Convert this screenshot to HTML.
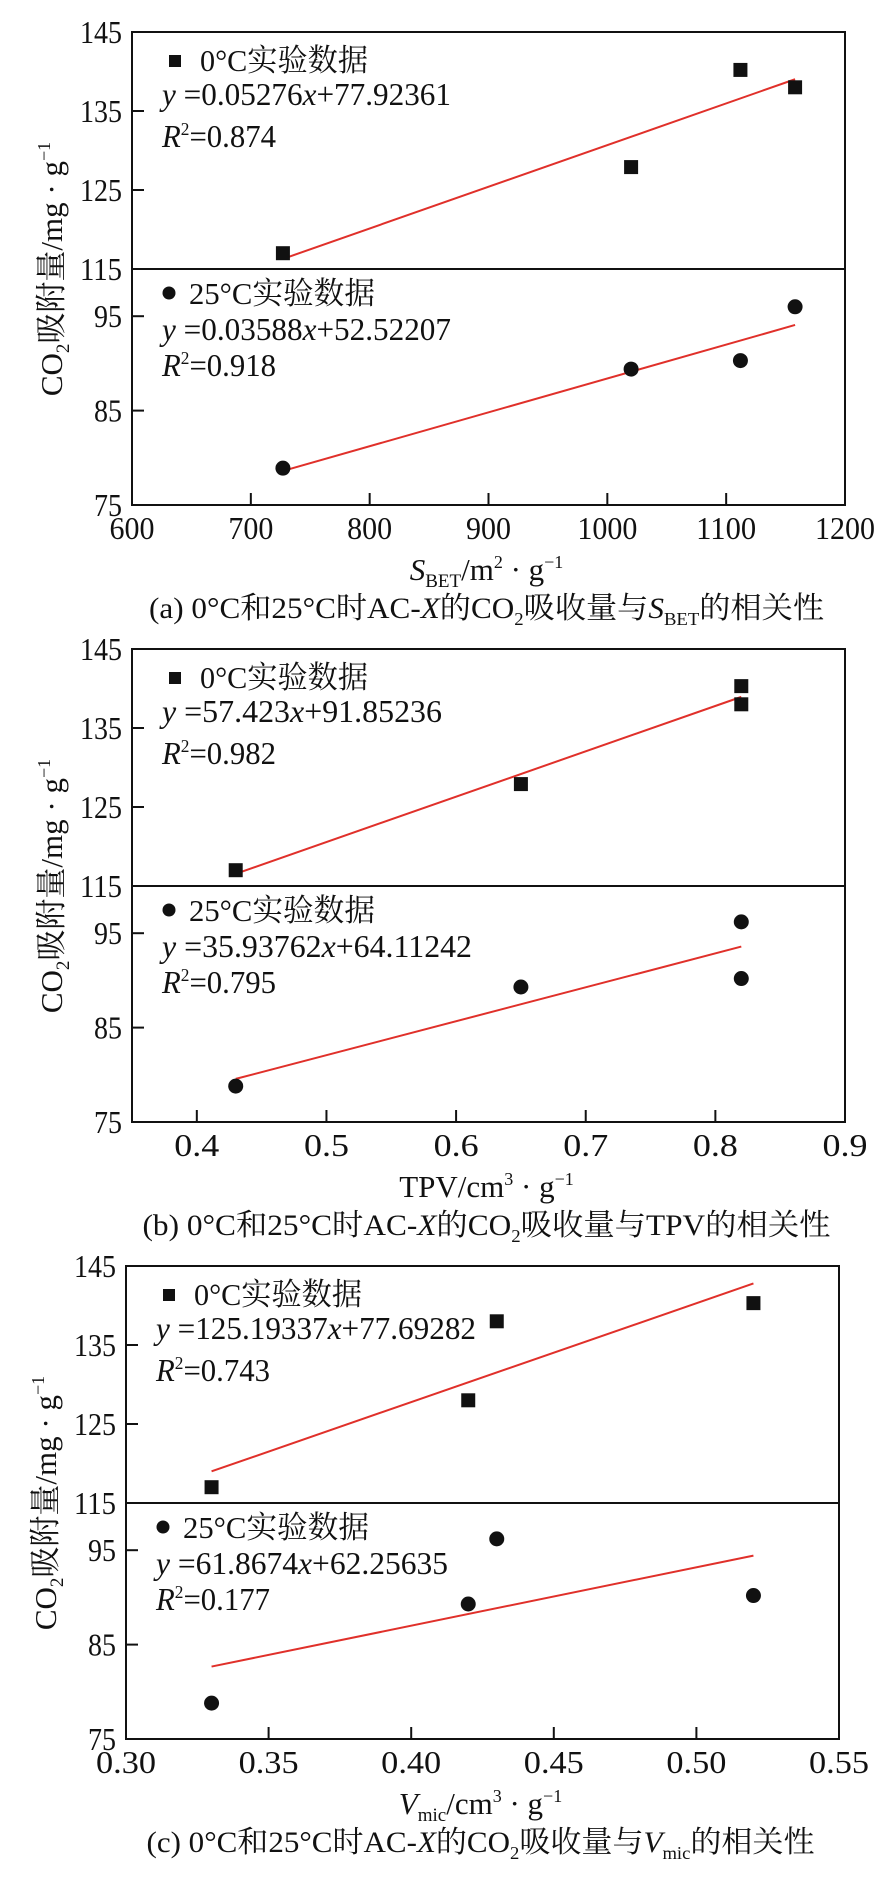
<!DOCTYPE html>
<html><head><meta charset="utf-8">
<style>
html,body{margin:0;padding:0;background:#fff;}
svg{display:block;}
text{font-family:"Liberation Serif","Noto Serif CJK SC","Noto Sans CJK SC",serif;fill:#111;}
</style></head>
<body>
<svg id="fig" width="881" height="1883" viewBox="0 0 881 1883" xmlns="http://www.w3.org/2000/svg"></svg>
<script>
// ---- Panel (a) data: S_BET ----
const aX = [727, 1020, 1112, 1158];
const aUpper = [117.0, 127.9, 140.2, 138.0];
const aLower = [78.9, 89.4, 90.3, 96.0];
const aFitUpper = [0.05276, 77.92361];
const aFitLower = [0.03588, 52.52207];
const aXTicks = [600, 700, 800, 900, 1000, 1100, 1200];
const aXTickLabels = ["600","700","800","900","1000","1100","1200"];
// ---- Panel (b) data: TPV ----
const bX = [0.43, 0.65, 0.82, 0.82];
const bUpper = [117.0, 127.9, 140.3, 138.0];
const bLower = [78.8, 89.3, 96.2, 90.2];
const bFitUpper = [57.423, 91.85236];
const bFitLower = [35.93762, 64.11242];
const bXTicks = [0.4, 0.5, 0.6, 0.7, 0.8, 0.9];
const bXTickLabels = ["0.4","0.5","0.6","0.7","0.8","0.9"];
// ---- Panel (c) data: V_mic ----
const cX = [0.33, 0.42, 0.43, 0.52];
const cUpper = [117.0, 128.0, 138.0, 140.3];
const cLower = [78.8, 89.3, 96.2, 90.2];
const cFitUpper = [125.19337, 77.69282];
const cFitLower = [61.8674, 62.25635];
const cXTicks = [0.30, 0.35, 0.40, 0.45, 0.50, 0.55];
const cXTickLabels = ["0.30","0.35","0.40","0.45","0.50","0.55"];
// y-axis ticks (shared)
const upperYTicks = [145, 135, 125, 115];
const lowerYTicks = [95, 85, 75];

const NS = "http://www.w3.org/2000/svg";
const svg = document.getElementById('fig');
function mk(tag, attrs, parent){
  const e = document.createElementNS(NS, tag);
  for (const k in attrs) e.setAttribute(k, attrs[k]);
  (parent||svg).appendChild(e);
  return e;
}
function txt(parent, x, y, html, size, anchor, extra){
  const t = mk('text', Object.assign({x:x, y:y, 'font-size':size, 'text-anchor':anchor||'start'}, extra||{}), parent);
  t.innerHTML = html;
  return t;
}

function drawPanel(p){
  const g = mk('g', {});
  
  
  const L = p.left, R = p.right, T = p.top, D = T + 237, B = T + 473;
  const sx = v => L + (v - p.xmin) / (p.xmax - p.xmin) * (R - L);
  const syU = v => D - (v - 115) / 30 * (D - T);
  const syL = v => B - (v - 75) / 25 * (B - D);

  const frame = mk('rect', {x:L, y:T, width:R-L, height:B-T, fill:'none', stroke:'#111', 'stroke-width':2}, g);
  
  
  const div = mk('line', {x1:L, x2:R, y1:D, y2:D, stroke:'#111', 'stroke-width':2}, g);
  
  

  upperYTicks.forEach(v => {
    const y = syU(v);
    mk('line', {x1:L, x2:L+12, y1:y, y2:y, stroke:'#111', 'stroke-width':2}, g);
    const t = txt(g, L-10, y+11, String(v), 32, 'end', {'textLength':42, 'lengthAdjust':'spacingAndGlyphs'});
    
    
  });
  lowerYTicks.forEach(v => {
    const y = syL(v);
    mk('line', {x1:L, x2:L+12, y1:y, y2:y, stroke:'#111', 'stroke-width':2}, g);
    const t = txt(g, L-10, y+11, String(v), 32, 'end', {'textLength':28, 'lengthAdjust':'spacingAndGlyphs'});
    
    
  });
  p.xTicks.forEach((v, i) => {
    const x = sx(v);
    mk('line', {x1:x, x2:x, y1:B, y2:B-12, stroke:'#111', 'stroke-width':2}, g);
    const lab = p.xTickLabels[i];
    const t = txt(g, x, B+34, lab, 32, 'middle', {'textLength':lab.length*15, 'lengthAdjust':'spacingAndGlyphs'});
    
    
  });

  const x0 = p.xs[0], x1 = p.xs[p.xs.length-1];
  const fu = mk('line', {x1:sx(x0), y1:syU(p.fitU[0]*x0+p.fitU[1]), x2:sx(x1), y2:syU(p.fitU[0]*x1+p.fitU[1]), stroke:'#e0302a', 'stroke-width':2}, g);
  
  
  const fl = mk('line', {x1:sx(x0), y1:syL(p.fitL[0]*x0+p.fitL[1]), x2:sx(x1), y2:syL(p.fitL[0]*x1+p.fitL[1]), stroke:'#e0302a', 'stroke-width':2}, g);
  
  

  p.xs.forEach((xv, i) => {
    const s = mk('rect', {x:sx(xv)-7, y:syU(p.up[i])-7, width:14, height:14, fill:'#111'}, g);
    
    
    const c = mk('circle', {cx:sx(xv), cy:syL(p.lo[i]), r:7.5, fill:'#111'}, g);
    
    
  });

  const lx = L + 43, ex = L + 30;
  const s1 = mk('rect', {x:lx-6, y:T+23, width:12, height:12, fill:'#111'}, g);
  
  
  let t = txt(g, lx+25, T+39, '0°C实验数据', 31, 'start', {'textLength':168, 'lengthAdjust':'spacingAndGlyphs'});
  
  
  t = txt(g, ex, T+73, '<tspan font-style="italic">y</tspan> =' + p.eqU[0] + '<tspan font-style="italic">x</tspan>+' + p.eqU[1], 32, 'start', {'textLength':p.eqULen, 'lengthAdjust':'spacingAndGlyphs'});
  
  
  t = txt(g, ex, T+115, '<tspan font-style="italic">R</tspan><tspan font-size="18" dy="-12">2</tspan><tspan dy="12">=' + p.r2U + '</tspan>', 32, 'start', {'textLength':114, 'lengthAdjust':'spacingAndGlyphs'});
  
  

  const c1 = mk('circle', {cx:lx-6, cy:D+24, r:6.5, fill:'#111'}, g);
  
  
  t = txt(g, lx+14, D+35, '25°C实验数据', 31, 'start', {'textLength':186, 'lengthAdjust':'spacingAndGlyphs'});
  
  
  t = txt(g, ex, D+71, '<tspan font-style="italic">y</tspan> =' + p.eqL[0] + '<tspan font-style="italic">x</tspan>+' + p.eqL[1], 32, 'start', {'textLength':p.eqLLen, 'lengthAdjust':'spacingAndGlyphs'});
  
  
  t = txt(g, ex, D+107, '<tspan font-style="italic">R</tspan><tspan font-size="18" dy="-12">2</tspan><tspan dy="12">=' + p.r2L + '</tspan>', 32, 'start', {'textLength':114, 'lengthAdjust':'spacingAndGlyphs'});
  
  

  const yt = txt(g, 0, 0, 'CO<tspan font-size="19" dy="7">2</tspan><tspan dy="-7">吸附量/mg · g</tspan><tspan font-size="18" dy="-12">−1</tspan>', 31, 'middle', {transform:'translate(' + (L-70) + ',' + (T+237) + ') rotate(-90)'});
  
  
  const xt = txt(g, (L+R)/2 - 2, B+75, p.xTitle, 31, 'middle');
  
  
  const cap = txt(g, (L+R)/2 - 2, B+113, p.caption, 30, 'middle', {'textLength':p.capLen, 'lengthAdjust':'spacingAndGlyphs'});
  
  
}

drawPanel({id:'a', left:132, right:845, top:32, xmin:600, xmax:1200, xs:aX, up:aUpper, lo:aLower, fitU:aFitUpper, fitL:aFitLower,
  xTicks:aXTicks, xTickLabels:aXTickLabels, eqU:['0.05276','77.92361'], eqL:['0.03588','52.52207'], eqULen:289, eqLLen:289, r2U:'0.874', r2L:'0.918',
  xTitle:'<tspan font-style="italic">S</tspan><tspan font-size="19" dy="7">BET</tspan><tspan dy="-7">/m</tspan><tspan font-size="18" dy="-12">2</tspan><tspan dy="12"> · g</tspan><tspan font-size="18" dy="-12">−1</tspan>',
  caption:'(a) 0°C和25°C时AC-<tspan font-style="italic">X</tspan>的CO<tspan font-size="18" dy="7">2</tspan><tspan dy="-7">吸收量与</tspan><tspan font-style="italic">S</tspan><tspan font-size="18" dy="7">BET</tspan><tspan dy="-7">的相关性</tspan>', capLen:675});
drawPanel({id:'b', left:132, right:845, top:649, xmin:0.35, xmax:0.9, xs:bX, up:bUpper, lo:bLower, fitU:bFitUpper, fitL:bFitLower,
  xTicks:bXTicks, xTickLabels:bXTickLabels, eqU:['57.423','91.85236'], eqL:['35.93762','64.11242'], eqULen:280, eqLLen:310, r2U:'0.982', r2L:'0.795',
  xTitle:'TPV/cm<tspan font-size="18" dy="-12">3</tspan><tspan dy="12"> · g</tspan><tspan font-size="18" dy="-12">−1</tspan>',
  caption:'(b) 0°C和25°C时AC-<tspan font-style="italic">X</tspan>的CO<tspan font-size="18" dy="7">2</tspan><tspan dy="-7">吸收量与TPV的相关性</tspan>', capLen:688});
drawPanel({id:'c', left:126, right:839, top:1266, xmin:0.30, xmax:0.55, xs:cX, up:cUpper, lo:cLower, fitU:cFitUpper, fitL:cFitLower,
  xTicks:cXTicks, xTickLabels:cXTickLabels, eqU:['125.19337','77.69282'], eqL:['61.8674','62.25635'], eqULen:320, eqLLen:292, r2U:'0.743', r2L:'0.177',
  xTitle:'<tspan font-style="italic">V</tspan><tspan font-size="19" dy="7">mic</tspan><tspan dy="-7">/cm</tspan><tspan font-size="18" dy="-12">3</tspan><tspan dy="12"> · g</tspan><tspan font-size="18" dy="-12">−1</tspan>',
  caption:'(c) 0°C和25°C时AC-<tspan font-style="italic">X</tspan>的CO<tspan font-size="18" dy="7">2</tspan><tspan dy="-7">吸收量与</tspan><tspan font-style="italic">V</tspan><tspan font-size="18" dy="7">mic</tspan><tspan dy="-7">的相关性</tspan>', capLen:668});
</script>
</body></html>
